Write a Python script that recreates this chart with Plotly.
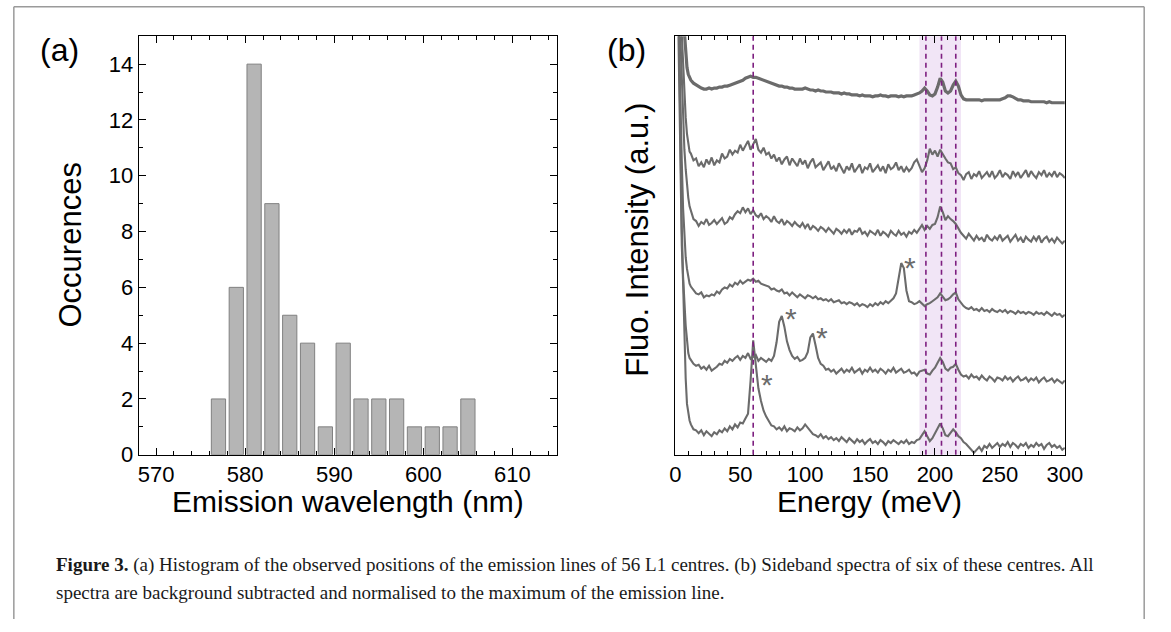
import plotly.graph_objects as go

# ---------------- data: panel (a) histogram ----------------
WAVELENGTH_NM = [577, 579, 581, 583, 585, 587, 589, 591, 593, 595, 597, 599, 601, 603, 605]
OCCURRENCES = [2, 6, 14, 9, 5, 4, 1, 4, 2, 2, 2, 1, 1, 1, 2]

# ---------------- data: panel (b) sideband spectra (offset for display) ----------------
ENERGY_MEV = [0, 1, 2, 3, 4, 5, 6, 7, 8, 9, 10, 11,
              12, 14, 16, 18, 20, 22, 24, 26, 28, 30,
              32, 34, 36, 38, 40, 42, 44, 46, 48, 50,
              52, 54, 56, 58, 60, 62, 64, 66, 68, 70,
              72, 74, 76, 78, 80, 82, 84, 86, 88, 90,
              92, 94, 96, 98, 100, 102, 104, 106, 108, 110,
              112, 114, 116, 118, 120, 122, 124, 126, 128, 130,
              132, 134, 136, 138, 140, 142, 144, 146, 148, 150,
              152, 154, 156, 158, 160, 162, 164, 166, 168, 170,
              172, 174, 176, 178, 180, 182, 184, 186, 188, 190,
              192, 194, 196, 198, 200, 202, 204, 206, 208, 210,
              212, 214, 216, 218, 220, 222, 224, 226, 228, 230,
              232, 234, 236, 238, 240, 242, 244, 246, 248, 250,
              252, 254, 256, 258, 260, 262, 264, 266, 268, 270,
              272, 274, 276, 278, 280, 282, 284, 286, 288, 290,
              292, 294, 296, 298, 300]

SPECTRUM_1 = [700, 640, 590, 550, 515, 480, 450, 430, 410, 396, 389, 386,
              383, 380, 378, 376, 375, 374, 374, 375, 374, 375,
              375, 376, 376, 377, 377, 378, 379, 380, 381, 382,
              383, 385, 386, 387, 386, 386, 385, 384, 383, 382,
              381, 380, 379, 378, 377, 377, 376, 376, 375, 375,
              374, 374, 374, 374, 375, 374, 373, 373, 372, 373,
              372, 372, 371, 371, 371, 370, 370, 370, 369, 370,
              369, 369, 368, 368, 368, 367, 368, 367, 367, 367,
              366, 367, 367, 368, 367, 367, 366, 367, 367, 367,
              366, 367, 366, 367, 367, 367, 368, 369, 370, 372,
              375, 372, 368, 367, 369, 376, 385, 381, 372, 370,
              372, 378, 382, 377, 368, 364, 363, 363, 363, 363,
              363, 363, 362, 363, 363, 363, 363, 363, 363, 363,
              364, 365, 367, 367, 366, 364, 363, 363, 362, 362,
              362, 361, 361, 361, 361, 361, 361, 360, 361, 360,
              360, 360, 360, 360, 360]

SPECTRUM_2 = [700, 620, 560, 515, 470, 430, 400, 370, 345, 328, 316, 310,
              308, 301, 303, 295, 299, 294, 302, 297, 304, 296,
              301, 299, 308, 303, 305, 312, 307, 311, 309, 317,
              311, 316, 321, 312, 318, 323, 312, 309, 314, 307,
              309, 303, 307, 300, 304, 297, 302, 305, 296, 303,
              299, 295, 303, 297, 301, 293, 299, 303, 294, 297,
              299, 291, 296, 300, 292, 295, 290, 298, 293, 288,
              295, 291, 298, 289, 293, 297, 288, 294, 292, 298,
              289, 293, 296, 290, 295, 288, 297, 292, 294, 299,
              291, 295, 289, 294, 290, 293, 299, 302, 296, 289,
              293, 301, 313, 307, 311, 305, 312, 307, 303, 299,
              298, 292, 294, 288, 286, 281, 287, 289, 282, 287,
              285, 290, 283, 286, 289, 284, 290, 283, 286, 291,
              284, 288, 286, 282, 290, 285, 289, 283, 287, 291,
              284, 290, 286, 283, 289, 286, 291, 284, 288, 285,
              290, 284, 288, 286, 283]

SPECTRUM_3 = [700, 600, 530, 475, 425, 380, 340, 312, 292, 275, 263, 254,
              250, 241, 239, 234, 238, 236, 241, 235, 237, 240,
              236, 239, 242, 236, 238, 243, 241, 246, 249, 247,
              253, 248, 252, 246, 250, 245, 243, 247, 241, 244,
              242, 238, 244, 239, 237, 241, 235, 239, 237, 234,
              238, 235, 233, 237, 232, 236, 230, 234, 232, 229,
              233, 231, 228, 232, 229, 226, 231, 229, 226, 230,
              227, 231, 225, 229, 228, 232, 226, 228, 224, 229,
              227, 225, 230, 224, 228, 226, 223, 229, 226, 224,
              229, 225, 227, 223, 228, 226, 230, 227, 231, 235,
              230, 234, 231, 235, 236, 243, 254, 248, 240, 244,
              241, 239, 236, 231, 227, 224, 221, 226, 222, 219,
              224, 220, 222, 218, 225, 221, 219, 223, 220, 225,
              219, 222, 224, 218, 221, 225, 219, 222, 217, 223,
              220, 218, 223, 219, 224, 217, 221, 223, 218, 221,
              217, 222, 219, 216, 219]

SPECTRUM_4 = [700, 580, 490, 420, 350, 300, 252, 222, 202, 190, 181, 175,
              172, 168, 165, 164, 166, 161, 163, 162, 164, 163,
              167, 165, 169, 171, 170, 174, 172, 176, 174, 178,
              175, 177, 179, 178, 180, 177, 178, 175, 174, 173,
              172, 169, 170, 168, 167, 169, 165, 166, 163, 166,
              163, 161, 164, 162, 160, 163, 162, 160, 162, 159,
              160, 158, 159, 157, 159, 156, 157, 158, 155, 156,
              154, 156, 155, 153, 155, 152, 154, 153, 151, 154,
              152, 155, 153, 156, 154, 157, 155, 158, 160, 165,
              179, 196, 191, 168, 157, 156, 154, 155, 157, 154,
              152, 154, 155, 157, 159, 161, 165, 162, 158, 159,
              161, 164, 166, 159, 155, 152, 150, 149, 151, 148,
              149, 147, 150, 147, 148, 146, 149, 147, 146, 148,
              146, 148, 145, 147, 146, 144, 147, 145, 146, 144,
              146, 145, 143, 146, 144, 145, 143, 146, 144, 142,
              145, 143, 144, 141, 143]

SPECTRUM_5 = [700, 600, 520, 400, 300, 232, 182, 152, 132, 118, 104, 99,
              97, 93, 91, 92, 88, 90, 87, 91, 86, 88,
              90, 93, 92, 96, 94, 98, 96, 99, 101, 97,
              101, 99, 104, 98, 100, 102, 96, 99, 97, 95,
              98, 96, 101, 115, 136, 142, 131, 116, 107, 101,
              98, 100, 96, 97, 99, 105, 120, 124, 112, 99,
              93, 91, 87, 88, 85, 87, 83, 86, 88, 84,
              87, 85, 89, 84, 86, 88, 83, 87, 85, 89,
              85, 87, 84, 88, 86, 83, 87, 85, 89, 84,
              86, 88, 84, 85, 87, 83, 84, 81, 85, 86,
              87, 83, 82, 86, 89, 94, 99, 95, 88, 86,
              89, 90, 93, 87, 82, 80, 81, 78, 82, 79,
              80, 77, 81, 78, 76, 80, 78, 75, 79, 78,
              76, 80, 77, 79, 75, 78, 80, 76, 77, 79,
              75, 78, 76, 79, 74, 77, 79, 75, 76, 78,
              74, 77, 75, 73, 76]

SPECTRUM_6 = [700, 560, 470, 380, 290, 214, 176, 120, 78, 52, 41, 35,
              31, 26, 25, 22, 25, 20, 24, 21, 19, 23,
              21, 25, 23, 27, 24, 29, 26, 31, 28, 33,
              32, 37, 42, 76, 117, 92, 68, 55, 45, 39,
              34, 30, 29, 26, 28, 25, 29, 24, 27, 26,
              24, 28, 25, 27, 31, 28, 24, 21, 20, 18,
              21, 17, 19, 16, 18, 15, 17, 14, 18, 15,
              13, 17, 14, 12, 16, 13, 15, 11, 14, 16,
              12, 14, 11, 15, 13, 10, 14, 12, 15, 13,
              11, 14, 12, 15, 11, 13, 12, 15, 16, 20,
              24, 19, 14, 17, 22, 26, 32, 27, 20, 19,
              23, 26, 23, 19, 17, 13, 11, 8, 5, 2,
              5, 8, 4, 9, 7, 11, 7, 10, 12, 8,
              11, 9, 13, 8, 12, 10, 7, 11, 9, 12,
              7, 10, 8, 12, 9, 11, 6, 10, 12, 8,
              10, 7, 9, 5, 7]

SPECTRA = [SPECTRUM_1, SPECTRUM_2, SPECTRUM_3, SPECTRUM_4, SPECTRUM_5, SPECTRUM_6]
for s in SPECTRA:
    if len(s) != len(ENERGY_MEV):
        raise ValueError("length mismatch %d vs %d" % (len(s), len(ENERGY_MEV)))

PHONON_LINES_MEV = [60, 193, 205, 216]
BAND_MEV = [188, 220]
ASTERISK_E = [180.5, 89, 113, 70.5]
ASTERISK_V = [192, 139, 120, 72]

CAPTION_1 = ("<b>Figure 3.</b> (a) Histogram of the observed positions of the emission lines of 56 L1 "
             "centres. (b) Sideband spectra of six of these centres. All")
CAPTION_2 = "spectra are background subtracted and normalised to the maximum of the emission line."

# ---------------- layout helpers ----------------
W, H = 1171, 632


def px(x):
    return x / W


def py(y):
    return 1 - y / H


SANS = "Liberation Sans, Arial, sans-serif"
LINE_GREY = "#6b6b6b"

fig = go.Figure()

fig.add_trace(go.Bar(
    x=WAVELENGTH_NM, y=OCCURRENCES, width=1.6,
    marker=dict(color="#b5b5b5", line=dict(color="#808080", width=1)),
    xaxis="x", yaxis="y", showlegend=False))

for i, s in enumerate(SPECTRA):
    fig.add_trace(go.Scatter(
        x=ENERGY_MEV, y=s, mode="lines",
        line=dict(color=LINE_GREY, width=3.2 if i == 0 else 2.1),
        xaxis="x2", yaxis="y2", showlegend=False))

axis_common = dict(showline=True, linecolor="black", linewidth=1.3, mirror="ticks",
                   ticks="inside", tickcolor="black", tickwidth=1, ticklen=7,
                   showgrid=False, zeroline=False,
                   tickfont=dict(family=SANS, size=22, color="black"))

fig.update_layout(
    width=W, height=H, autosize=False,
    margin=dict(l=0, r=0, t=0, b=0),
    paper_bgcolor="white", plot_bgcolor="white",
    showlegend=False, hovermode=False,
    xaxis=dict(domain=[px(135.7), px(562.5)], range=[568.07, 615], anchor="y",
               tick0=570, dtick=10,
               minor=dict(ticks="inside", ticklen=4, dtick=2, tick0=570,
                          tickcolor="black", tickwidth=1),
               **axis_common),
    yaxis=dict(domain=[py(464.3), py(37)], range=[0, 15], anchor="x",
               tick0=0, dtick=2,
               minor=dict(ticks="inside", ticklen=4, dtick=1, tick0=0,
                          tickcolor="black", tickwidth=1),
               **axis_common),
    xaxis2=dict(domain=[px(683.3), px(1081)], range=[0, 300], anchor="y2",
                tick0=0, dtick=50,
                minor=dict(ticks="inside", ticklen=4, dtick=10, tick0=0,
                           tickcolor="black", tickwidth=1),
                **axis_common),
    yaxis2=dict(domain=[py(464.3), py(37)], range=[0, 428], anchor="x2",
                showticklabels=False, showline=True, linecolor="black",
                linewidth=1.3, mirror=True, ticks="", showgrid=False,
                zeroline=False),
)

shapes = []
# shaded phonon band
shapes.append(dict(type="rect", xref="x2", yref="y2 domain",
                   x0=BAND_MEV[0], x1=BAND_MEV[1], y0=0, y1=1,
                   fillcolor="#f1e5f6", line=dict(width=0), layer="below"))
# dashed phonon lines
for e in PHONON_LINES_MEV:
    shapes.append(dict(type="line", xref="x2", yref="y2 domain",
                       x0=e, x1=e, y0=0, y1=1,
                       line=dict(color="#7d1f80", width=1.6, dash="5px,4px"),
                       layer="above"))
# figure frame
frame = dict(color="#9a9a9a", width=1.5)
shapes.append(dict(type="line", xref="paper", yref="paper",
                   x0=px(8), x1=px(1162), y0=py(7), y1=py(7), line=frame))
shapes.append(dict(type="line", xref="paper", yref="paper",
                   x0=px(8), x1=px(8), y0=py(7), y1=py(632), line=frame))
shapes.append(dict(type="line", xref="paper", yref="paper",
                   x0=px(1162), x1=px(1162), y0=py(7), y1=py(632), line=frame))
fig.update_layout(shapes=shapes)

ann = []


def text(x, y, s, size, angle=0, family=SANS, color="black", xanchor="center"):
    ann.append(dict(x=px(x), y=py(y), xref="paper", yref="paper", text=s,
                    showarrow=False, textangle=angle, xanchor=xanchor,
                    yanchor="middle",
                    font=dict(family=family, size=size, color=color)))


text(55, 51, "(a)", 32)
text(633, 51, "(b)", 32)
text(349, 512, "Emission wavelength (nm)", 30)
text(882, 512, "Energy (meV)", 30)
text(66, 250, "Occurences", 31, angle=-90)
text(645, 245, "Fluo. Intensity (a.u.)", 31, angle=-90)

for e, v in zip(ASTERISK_E, ASTERISK_V):
    ann.append(dict(x=e, y=v, xref="x2", yref="y2", text="*", showarrow=False,
                    xanchor="center", yanchor="middle",
                    font=dict(family=SANS, size=30, color=LINE_GREY)))

SERIF = "Liberation Serif, Times New Roman, serif"
text(49, 577, CAPTION_1, 19, family=SERIF, color="#1a1a1a", xanchor="left")
text(49, 605, CAPTION_2, 19, family=SERIF, color="#1a1a1a", xanchor="left")

fig.update_layout(annotations=ann)

# drop the browser's default 8px body margin so the figure fills the window 1:1
fig.write_html("out.html",
               config={"displayModeBar": False, "staticPlot": True},
               post_script="document.body.style.margin='0px';"
                           "document.body.style.overflow='hidden';")
